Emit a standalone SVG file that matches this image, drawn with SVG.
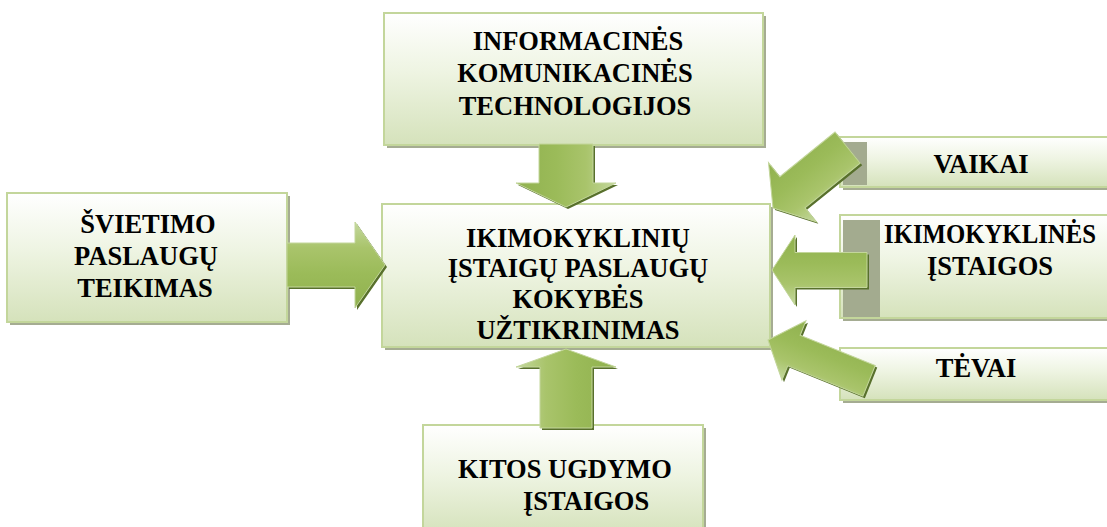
<svg xmlns="http://www.w3.org/2000/svg" width="1107" height="527" viewBox="0 0 1107 527">
  <defs>
    <linearGradient id="boxGrad" x1="0" y1="0" x2="0" y2="1">
      <stop offset="0" stop-color="#ffffff"/>
      <stop offset="0.45" stop-color="#eef4e2"/>
      <stop offset="1" stop-color="#d5e2bb"/>
    </linearGradient>
    <linearGradient id="arrowGrad" x1="0" y1="0" x2="0" y2="1">
      <stop offset="0" stop-color="#c4d89e"/>
      <stop offset="0.3" stop-color="#a9c46b"/>
      <stop offset="0.6" stop-color="#9bbb59"/>
      <stop offset="1" stop-color="#90b14f"/>
    </linearGradient>
    <style>
      .shadow { fill: #a5ac92; }
      .box { fill: url(#boxGrad); stroke: #c3d69b; stroke-width: 2; }
      .inner { fill: #a3ab8f; }
      .arrow { fill: url(#arrowGrad); stroke: #c3d69b; stroke-width: 1; }
      .ashadow { fill: #58702c; }
      .label { font-family: 'Liberation Serif', serif; font-weight: bold; font-size: 26.5px; fill: #000000; }
      .mid { text-anchor: middle; }
    </style>
  </defs>

  <rect width="1107" height="527" fill="#ffffff"/>

  <g id="node-ikt">
    <rect class="shadow" x="387" y="16" width="379" height="132"/>
    <rect class="box" x="384" y="13" width="379" height="132"/>
    <text class="label mid" x="578" y="50">INFORMACINĖS</text>
    <text class="label mid" x="575" y="82">KOMUNIKACINĖS</text>
    <text class="label mid" x="575" y="115">TECHNOLOGIJOS</text>
  </g>

  <g id="node-center">
    <rect class="shadow" x="385" y="207" width="388" height="143"/>
    <rect class="box" x="382" y="204" width="388" height="143"/>
    <text class="label mid" x="578" y="247">IKIMOKYKLINIŲ</text>
    <text class="label mid" x="578" y="277">ĮSTAIGŲ PASLAUGŲ</text>
    <text class="label mid" x="578" y="308">KOKYBĖS</text>
    <text class="label mid" x="578" y="339">UŽTIKRINIMAS</text>
  </g>

  <g id="node-svietimo">
    <rect class="shadow" x="10" y="196" width="280" height="129"/>
    <rect class="box" x="7" y="193" width="280" height="129"/>
    <text class="label mid" x="148" y="233">ŠVIETIMO</text>
    <text class="label mid" x="146" y="265">PASLAUGŲ</text>
    <text class="label mid" x="145" y="297">TEIKIMAS</text>
  </g>

  <g id="node-kitos">
    <rect class="shadow" x="426" y="428" width="280" height="110"/>
    <rect class="box" x="423" y="425" width="280" height="110"/>
    <text class="label" x="458" y="478">KITOS UGDYMO</text>
    <text class="label" x="523" y="510">ĮSTAIGOS</text>
  </g>

  <g id="node-vaikai">
    <rect class="shadow" x="843" y="140" width="270" height="50"/>
    <rect class="box" x="840" y="137" width="270" height="50"/>
    <rect class="inner" x="843" y="142" width="24" height="43"/>
    <text class="label mid" x="981" y="173">VAIKAI</text>
  </g>

  <g id="node-ikimokyklines">
    <rect class="shadow" x="843" y="218" width="270" height="103"/>
    <rect class="box" x="840" y="215" width="270" height="103"/>
    <rect class="inner" x="843" y="220" width="37" height="97"/>
    <text class="label mid" x="990" y="243" textLength="212" lengthAdjust="spacingAndGlyphs">IKIMOKYKLINĖS</text>
    <text class="label mid" x="990" y="275">ĮSTAIGOS</text>
  </g>

  <g id="node-tevai">
    <rect class="shadow" x="843" y="351" width="270" height="52"/>
    <rect class="box" x="840" y="348" width="270" height="52"/>
    <text class="label mid" x="976" y="377">TĖVAI</text>
  </g>

  <g id="connectors">
    <path class="ashadow" transform="translate(387,267)" d="M0,0 L-30,-43 L-30,-22 L-98,-22 L-98,22 L-30,22 L-30,43 Z"/>
    <path class="arrow" transform="translate(385,265)" d="M0,0 L-30,-43 L-30,-22 L-98,-22 L-98,22 L-30,22 L-30,43 Z"/>
    <path class="ashadow" transform="translate(568,209) rotate(90)" d="M0,0 L-24,-50 L-24,-27 L-63,-27 L-63,27 L-24,27 L-24,50 Z"/>
    <path class="arrow" transform="translate(566,207) rotate(90)" d="M0,0 L-24,-50 L-24,-27 L-63,-27 L-63,27 L-24,27 L-24,50 Z"/>
    <path class="ashadow" transform="translate(568,351) rotate(-90)" d="M0,0 L-18,-50 L-18,-26 L-79,-26 L-79,26 L-18,26 L-18,50 Z"/>
    <path class="arrow" transform="translate(566,349) rotate(-90)" d="M0,0 L-18,-50 L-18,-26 L-79,-26 L-79,26 L-18,26 L-18,50 Z"/>
    <path class="ashadow" transform="translate(774,272) rotate(180)" d="M0,0 L-23,-35 L-23,-17.5 L-95,-17.5 L-95,17.5 L-23,17.5 L-23,35 Z"/>
    <path class="arrow" transform="translate(772,270) rotate(180)" d="M0,0 L-23,-35 L-23,-17.5 L-95,-17.5 L-95,17.5 L-23,17.5 L-23,35 Z"/>
    <path class="ashadow" transform="translate(775,210) rotate(141)" d="M0,0 L-25,-38 L-25,-20 L-96,-20 L-96,20 L-25,20 L-25,38 Z"/>
    <path class="arrow" transform="translate(773,208) rotate(141)" d="M0,0 L-25,-38 L-25,-20 L-96,-20 L-96,20 L-25,20 L-25,38 Z"/>
    <path class="ashadow" transform="translate(770,342) rotate(202)" d="M0,0 L-28,-32 L-28,-16.5 L-109,-16.5 L-109,16.5 L-28,16.5 L-28,32 Z"/>
    <path class="arrow" transform="translate(768,340) rotate(202)" d="M0,0 L-28,-32 L-28,-16.5 L-109,-16.5 L-109,16.5 L-28,16.5 L-28,32 Z"/>
  </g>
</svg>
